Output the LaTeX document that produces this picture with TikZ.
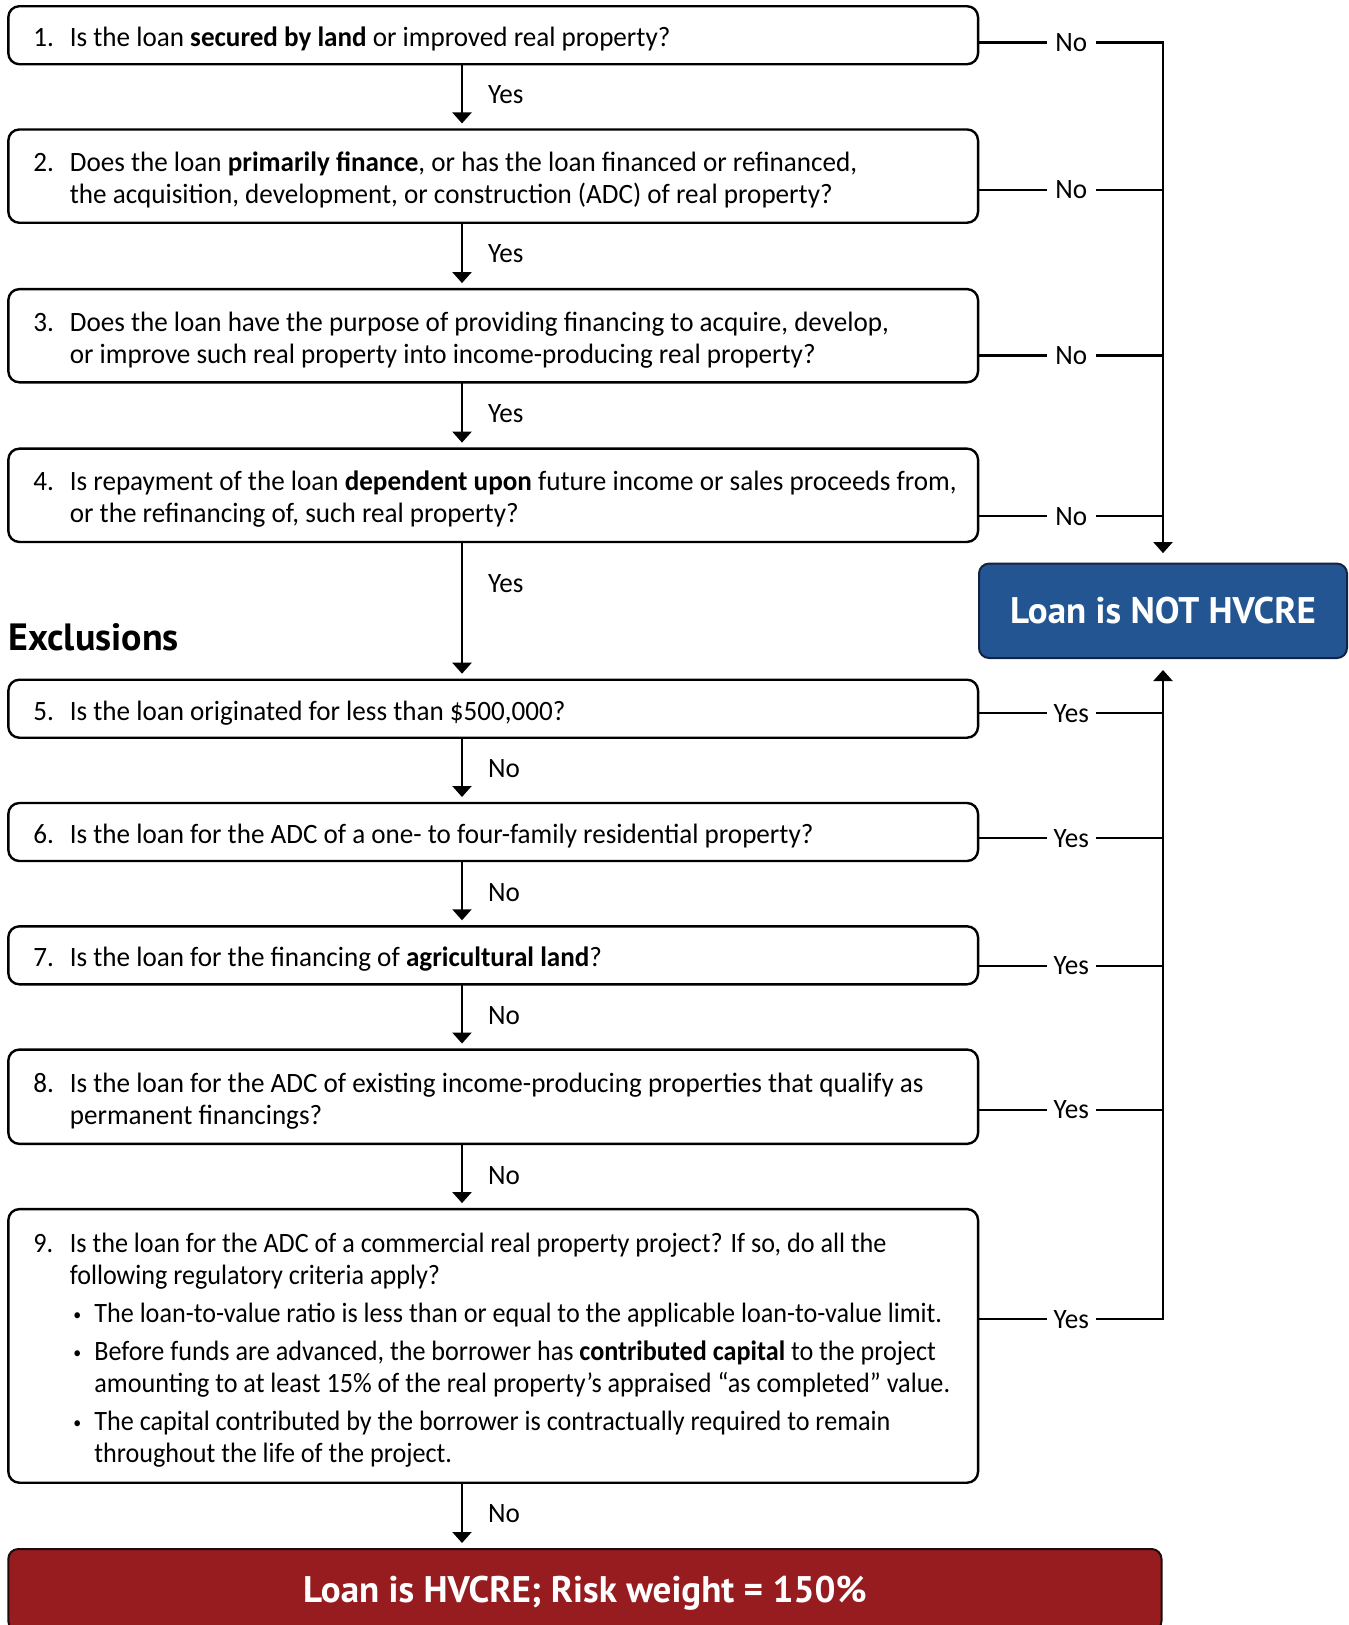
\documentclass[tikz,border=0pt]{standalone}
\usepackage{fontspec}
\setmainfont{Carlito}[FakeStretch=0.968]
\newfontfamily\ninefont{Carlito}[FakeStretch=0.934]
\newfontfamily\titlefont{PT Sans}
\usetikzlibrary{arrows.meta}
\definecolor{hvblue}{RGB}{35,85,146}
\definecolor{hvnavy}{RGB}{20,35,65}
\definecolor{hvred}{RGB}{150,28,32}
\definecolor{hvredline}{RGB}{30,10,10}
\newcommand\qfont{\fontsize{28}{32}\selectfont}
\newcommand\qs{\rule[-7pt]{0pt}{32pt}}
\newcommand\qn[1]{\qs\makebox[36.5pt][l]{#1}}
\newcommand\qc{\qs\hspace*{36.5pt}}
\newcommand\qb{\qs\hspace*{40pt}\makebox[21pt][l]{\raisebox{1.5pt}{\fontsize{17}{17}\selectfont\textbullet}}}
\newcommand\qbc{\qs\hspace*{61pt}}
\tikzset{
  qbox/.style={draw, line width=2.4pt, rounded corners=11pt, minimum width=969.7pt, inner sep=0pt, outer sep=0pt},
  qtext/.style={inner sep=0pt, outer sep=0pt, align=left, font=\qfont, anchor=west},
  lab/.style={inner sep=0pt, outer sep=0pt, font=\qfont, text height=18.5pt, text depth=0pt, minimum width=49.5pt},
  dlab/.style={inner sep=0pt, outer sep=0pt, font=\qfont, text height=18.5pt, text depth=0pt, anchor=west},
  conn/.style={line width=2.2pt},
  arr/.style={line width=2.2pt, -{Triangle[width=19pt,length=11pt]}, shorten >=6pt},
}
\begin{document}
\begin{tikzpicture}[x=1pt,y=-1pt]
\useasboundingbox (0,0) rectangle (1349,1625);
% question boxes
\node[qbox, minimum height=58pt] (q1) at (493.2,35.2) {};
\node[qbox, minimum height=93.3pt] (q2) at (493.2,176.1) {};
\node[qbox, minimum height=93.2pt] (q3) at (493.2,335.7) {};
\node[qbox, minimum height=93.3pt] (q4) at (493.2,495.3) {};
\node[qbox, minimum height=58pt] (q5) at (493.2,708.7) {};
\node[qbox, minimum height=58pt] (q6) at (493.2,832) {};
\node[qbox, minimum height=58pt] (q7) at (493.2,955.3) {};
\node[qbox, minimum height=94.3pt] (q8) at (493.2,1096.7) {};
\node[qbox, minimum height=273.6pt] (q9) at (493.2,1345.9) {};
% texts
\node[qtext] (t1) at ([xshift=25pt,yshift=-2.5pt]q1.west) {\qn{1.}Is the loan \textbf{secured by land} or improved real property?};
\node[qtext] (t2) at ([xshift=25pt,yshift=-2.5pt]q2.west) {\qn{2.}Does the loan \textbf{primarily finance}, or has the loan financed or refinanced,\\\qc the acquisition, development, or construction (ADC) of real property?};
\node[qtext] (t3) at ([xshift=25pt,yshift=-2.5pt]q3.west) {\qn{3.}Does the loan have the purpose of providing financing to acquire, develop,\\\qc or improve such real property into income-producing real property?};
\node[qtext] (t4) at ([xshift=25pt,yshift=-2.5pt]q4.west) {\qn{4.}Is repayment of the loan \textbf{dependent upon} future income or sales proceeds from,\\\qc or the refinancing of, such real property?};
\node[qtext] (t5) at ([xshift=25pt,yshift=-2.5pt]q5.west) {\qn{5.}Is the loan originated for less than \$500,000?};
\node[qtext] (t6) at ([xshift=25pt,yshift=-2.5pt]q6.west) {\qn{6.}Is the loan for the ADC of a one- to four-family residential property?};
\node[qtext] (t7) at ([xshift=25pt,yshift=-2.5pt]q7.west) {\qn{7.}Is the loan for the financing of \textbf{agricultural land}?};
\node[qtext] (t8) at ([xshift=25pt,yshift=-2.5pt]q8.west) {\qn{8.}Is the loan for the ADC of existing income-producing properties that qualify as\\\qc permanent financings?};
\node[qtext, font=\ninefont\qfont] (t9) at ([xshift=25pt,yshift=-2.5pt]q9.west) {\qn{9.}Is the loan for the ADC of a commercial real property project? If so, do all the\\\qc following regulatory criteria apply?\\[6pt]
\qb The loan-to-value ratio is less than or equal to the applicable loan-to-value limit.\\[6pt]
\qb Before funds are advanced, the borrower has \textbf{contributed capital} to the project\\\qbc amounting to at least 15\% of the real property’s appraised “as completed” value.\\[6pt]
\qb The capital contributed by the borrower is contractually required to remain\\\qbc throughout the life of the project.};
% heading
\node[anchor=base west, inner sep=0pt, font=\titlefont\bfseries\fontsize{38}{44}\selectfont] (excl) at (8.3,650) {Exclusions};
% outcome boxes
\node[draw=hvnavy, fill=hvblue, line width=2pt, rounded corners=10pt, minimum width=368pt, minimum height=94.4pt, inner sep=0pt, outer sep=0pt, text=white, text height=25pt, text depth=0pt, font=\titlefont\bfseries\fontsize{37}{44}\selectfont] (notbox) at (1163,610.8) {Loan is NOT HVCRE};
\node[draw=hvredline, fill=hvred, line width=2pt, rounded corners=10pt, minimum width=1153.2pt, minimum height=82pt, inner sep=0pt, outer sep=0pt, text=white, text height=25pt, text depth=0pt, font=\titlefont\bfseries\fontsize{37}{44}\selectfont] (isbox) at (584.9,1590) {Loan is HVCRE; Risk weight = 150\%};
% vertical flow
\coordinate (ax) at (462,0);
\draw[arr] (q1.south -| ax) -- (q2.north -| ax);
\draw[arr] (q2.south -| ax) -- (q3.north -| ax);
\draw[arr] (q3.south -| ax) -- (q4.north -| ax);
\draw[arr] (q4.south -| ax) -- (q5.north -| ax);
\draw[arr] (q5.south -| ax) -- (q6.north -| ax);
\draw[arr] (q6.south -| ax) -- (q7.north -| ax);
\draw[arr] (q7.south -| ax) -- (q8.north -| ax);
\draw[arr] (q8.south -| ax) -- (q9.north -| ax);
\draw[arr] (q9.south -| ax) -- (isbox.north -| ax);
\node[dlab] (d12) at (488,94.5) {Yes};
\node[dlab] (d23) at (488,253.5) {Yes};
\node[dlab] (d34) at (488,413) {Yes};
\node[dlab] (d45) at (488,583.3) {Yes};
\node[dlab] (d56) at (488,768) {No};
\node[dlab] (d67) at (488,892) {No};
\node[dlab] (d78) at (488,1015.5) {No};
\node[dlab] (d89) at (488,1175) {No};
\node[dlab] (d9r) at (488,1513) {No};
% right side: No branch
\node[lab] (n1) at (1071.3,42.5) {No};
\node[lab] (n2) at (1071.3,189.6) {No};
\node[lab] (n3) at (1071.3,355.4) {No};
\node[lab] (n4) at (1071.3,516) {No};
\draw[conn] (q1.east |- n1) -- (n1.west);
\draw[conn] (q2.east |- n2) -- (n2.west);
\draw[conn] (q3.east |- n3) -- (n3.west);
\draw[conn] (q4.east |- n4) -- (n4.west);
\draw[arr, shorten >=10.5pt] (n1.east) -| (notbox.north);
\draw[conn] (n2.east) -- (n2.east -| notbox.north);
\draw[conn] (n3.east) -- (n3.east -| notbox.north);
\draw[conn] (n4.east) -- (n4.east -| notbox.north);
% right side: Yes branch
\node[lab] (s5) at (1071.3,712.8) {Yes};
\node[lab] (s6) at (1071.3,838.2) {Yes};
\node[lab] (s7) at (1071.3,965.6) {Yes};
\node[lab] (s8) at (1071.3,1109.6) {Yes};
\node[lab] (s9) at (1071.3,1319) {Yes};
\draw[conn] (q5.east |- s5) -- (s5.west);
\draw[conn] (q6.east |- s6) -- (s6.west);
\draw[conn] (q7.east |- s7) -- (s7.west);
\draw[conn] (q8.east |- s8) -- (s8.west);
\draw[conn] (q9.east |- s9) -- (s9.west);
\draw[arr, shorten >=12pt] (s9.east) -| (notbox.south);
\draw[conn] (s5.east) -- (s5.east -| notbox.south);
\draw[conn] (s6.east) -- (s6.east -| notbox.south);
\draw[conn] (s7.east) -- (s7.east -| notbox.south);
\draw[conn] (s8.east) -- (s8.east -| notbox.south);
\end{tikzpicture}
\end{document}
